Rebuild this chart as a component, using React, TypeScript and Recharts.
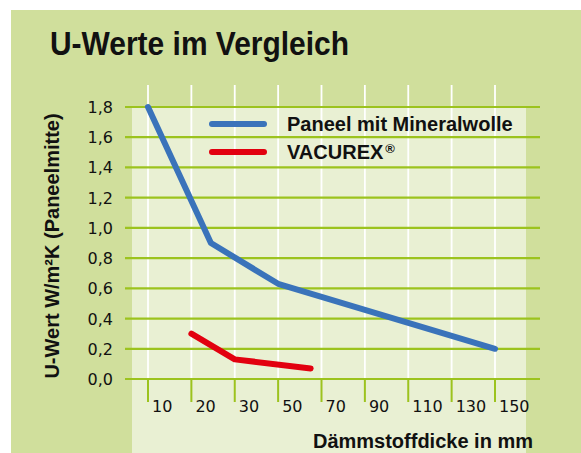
import React from 'react';
import { LineChart, Line, XAxis, YAxis, CartesianGrid, Legend, Label } from 'recharts';

// ---- data ----
const thicknessCategories = [10, 20, 30, 50, 70, 90, 110, 130, 150];
const mineralwolleThickness = [10, 24.5, 50, 150];
const mineralwolleU = [1.8, 0.9, 0.63, 0.2];
const vacurexThickness = [20, 30, 65];
const vacurexU = [0.3, 0.13, 0.07];
const uTicks = [0, 0.2, 0.4, 0.6, 0.8, 1.0, 1.2, 1.4, 1.6, 1.8];
const seriesNames = ['Paneel mit Mineralwolle', 'VACUREX®'];
const titleText = 'U-Werte im Vergleich';
const yTitle = 'U-Wert W/m²K (Paneelmitte)';
const xTitle = 'Dämmstoffdicke in mm';

// ---- styles ----
const OUTER = '#d0df9c';
const INNER = '#e9f0d3';
const GRID = '#9cc31e';
const BLUE = '#3a73ba';
const RED = '#e2000f';
const FONT = '"Liberation Sans", Arial, sans-serif';
const TICK_FONT = '"DejaVu Sans", "Liberation Sans", sans-serif';

// map a thickness (mm) onto the evenly spaced category slots of the axis
const toSlot = (mm: number) => {
  const c = thicknessCategories;
  for (let i = 0; i < c.length - 1; i++) {
    if (mm >= c[i] && mm <= c[i + 1]) return i + (mm - c[i]) / (c[i + 1] - c[i]);
  }
  return mm < c[0] ? 0 : c.length - 1;
};

const blueData = mineralwolleThickness.map((t, i) => ({ slot: toSlot(t), u: mineralwolleU[i] }));
const redData = vacurexThickness.map((t, i) => ({ slot: toSlot(t), u: vacurexU[i] }));
const slotTicks = thicknessCategories.map((_, i) => i);

const XTick = (props: any) => {
  const { x, y, payload } = props;
  return (
    <text x={x + 4} y={y + 10} textAnchor="start" fontFamily={TICK_FONT} fontSize={16} fill="#111">
      {thicknessCategories[payload.value]}
    </text>
  );
};

const YTick = (props: any) => {
  const { x, y, payload } = props;
  return (
    <text x={x} y={y + 6} textAnchor="end" fontFamily={TICK_FONT} fontSize={16} fill="#111">
      {Number(payload.value).toFixed(1).replace('.', ',')}
    </text>
  );
};

const hLine = (p: any) => (
  <line key={p.key ?? `h-${p.y1}`} x1={p.x1 - 23} x2={p.x2 + 45} y1={p.y1} y2={p.y2} stroke={GRID} strokeWidth={2.2} />
);
const vLine = (p: any) => (
  <line key={p.key ?? `v-${p.x1}`} x1={p.x1} x2={p.x2} y1={p.y1 - 22} y2={p.y2} stroke="#ffffff" strokeWidth={1.8} />
);

const renderLegend = (props: any) => {
  const payload = props.payload || [];
  return (
    <div style={{ fontFamily: FONT }}>
      {payload.map((entry: any) => {
        const name: string = String(entry.value);
        const parts = name.split('®');
        return (
          <div key={name} style={{ display: 'flex', alignItems: 'center', height: 28 }}>
            <svg width={64} height={10} style={{ display: 'block' }}>
              <line x1={6} x2={58} y1={5} y2={5} stroke={entry.color} strokeWidth={6} strokeLinecap="round" />
            </svg>
            <span style={{ marginLeft: 17, fontSize: 20, fontWeight: 700, color: '#111', whiteSpace: 'nowrap' }}>
              {parts[0]}
              {parts.length > 1 && (
                <span style={{ fontSize: 13, position: 'relative', top: -6, marginLeft: 2 }}>®</span>
              )}
            </span>
          </div>
        );
      })}
    </div>
  );
};

export default function App() {
  return (
    <div style={{ position: 'absolute', left: 0, top: 0, width: 581, height: 453, background: '#ffffff', overflow: 'hidden' }}>
      <div style={{ position: 'absolute', left: 11, top: 10, width: 570, height: 443, background: OUTER }} />
      <div style={{ position: 'absolute', left: 132, top: 107, width: 394, height: 346, background: INNER }} />
      <svg width={581} height={70} style={{ position: 'absolute', left: 0, top: 0 }}>
        <text x={50} y={55} fontFamily={FONT} fontWeight={700} fontSize={34} fill="#111" textLength={299} lengthAdjust="spacingAndGlyphs">
          {titleText}
        </text>
      </svg>
      <div style={{ position: 'absolute', left: 0, top: 0 }}>
        <LineChart width={581} height={453} margin={{ top: 107, right: 86, left: 0, bottom: 44 }}>
          <CartesianGrid horizontal={false} vertical={vLine} />
          <CartesianGrid vertical={false} horizontal={hLine} />
          <XAxis
            type="number"
            dataKey="slot"
            domain={[0, thicknessCategories.length - 1]}
            ticks={slotTicks}
            interval={0}
            height={30}
            axisLine={false}
            tickLine={{ stroke: GRID, strokeWidth: 2 }}
            tickSize={23}
            tickMargin={0}
            tick={<XTick />}
          >
            <Label
              content={() => (
                <text x={533} y={448} textAnchor="end" fontFamily={FONT} fontWeight={700} fontSize={20} fill="#111">
                  {xTitle}
                </text>
              )}
            />
          </XAxis>
          <YAxis
            type="number"
            dataKey="u"
            domain={[0, 1.8]}
            ticks={uTicks}
            interval={0}
            width={148}
            axisLine={false}
            tickLine={false}
            tickSize={0}
            tickMargin={35}
            tick={<YTick />}
          >
            <Label
              content={() => (
                <text
                  x={52}
                  y={246}
                  transform="rotate(-90, 52, 246)"
                  textAnchor="middle"
                  dominantBaseline="central"
                  fontFamily={FONT}
                  fontWeight={700}
                  fontSize={20}
                  fill="#111"
                >
                  {yTitle}
                </text>
              )}
            />
          </YAxis>
          <Legend
            layout="horizontal"
            verticalAlign="middle"
            align="center"
            content={renderLegend}
            wrapperStyle={{ position: 'absolute', left: 206, top: 110, width: 'auto', height: 'auto' }}
          />
          <Line
            data={blueData}
            dataKey="u"
            name={seriesNames[0]}
            type="linear"
            stroke={BLUE}
            strokeWidth={6}
            strokeLinecap="round"
            strokeLinejoin="round"
            dot={false}
            activeDot={false}
            isAnimationActive={false}
          />
          <Line
            data={redData}
            dataKey="u"
            name={seriesNames[1]}
            type="linear"
            stroke={RED}
            strokeWidth={6}
            strokeLinecap="round"
            strokeLinejoin="round"
            dot={false}
            activeDot={false}
            isAnimationActive={false}
          />
        </LineChart>
      </div>
    </div>
  );
}
